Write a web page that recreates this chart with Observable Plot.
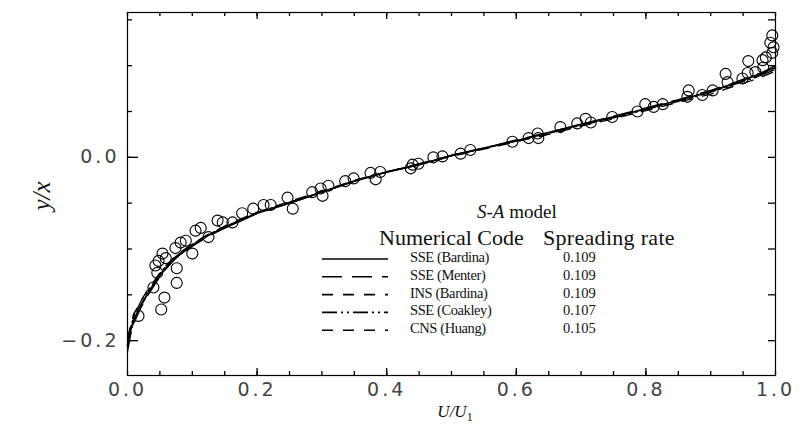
<!DOCTYPE html>
<html><head><meta charset="utf-8">
<script src="https://cdn.jsdelivr.net/npm/d3@7"></script>
<script src="https://cdn.jsdelivr.net/npm/@observablehq/plot@0.6"></script>
<style>
body{margin:0;background:#fff;}
#wrap{position:relative;width:803px;height:431px;overflow:hidden;}
.lg{position:absolute;font-family:"Liberation Serif","Times New Roman",serif;color:#111;white-space:nowrap;line-height:1;}
</style></head><body><div id="wrap"></div>
<script>
// ---- data ----
const uCurve = [0, 0.005, 0.01, 0.02, 0.03, 0.04, 0.055, 0.075, 0.1, 0.125, 0.15, 0.175, 0.2, 0.25, 0.3, 0.35, 0.4, 0.45, 0.5, 0.55, 0.6, 0.65, 0.7, 0.75, 0.8, 0.85, 0.9, 0.93, 0.96, 0.98, 1.0];
const ySSEBardina = [-0.205, -0.188, -0.177, -0.162, -0.150, -0.139, -0.124, -0.109, -0.096, -0.085, -0.077, -0.069, -0.061, -0.050, -0.038, -0.026, -0.016, -0.008, 0.002, 0.010, 0.018, 0.027, 0.036, 0.044, 0.053, 0.062, 0.072, 0.079, 0.087, 0.092, 0.098];
const ySSEMenter = [-0.212, -0.193, -0.181, -0.165, -0.152, -0.141, -0.125, -0.110, -0.097, -0.086, -0.077, -0.069, -0.061, -0.050, -0.038, -0.026, -0.016, -0.007, 0.002, 0.010, 0.019, 0.027, 0.036, 0.045, 0.054, 0.063, 0.073, 0.080, 0.088, 0.093, 0.100];
const yINSBardina = [-0.208, -0.190, -0.178, -0.163, -0.151, -0.140, -0.124, -0.109, -0.096, -0.085, -0.076, -0.068, -0.061, -0.049, -0.038, -0.026, -0.016, -0.008, 0.002, 0.010, 0.018, 0.027, 0.036, 0.044, 0.053, 0.062, 0.072, 0.079, 0.086, 0.091, 0.097];
const ySSECoakley = [-0.200, -0.184, -0.173, -0.158, -0.147, -0.137, -0.122, -0.108, -0.095, -0.084, -0.076, -0.068, -0.060, -0.049, -0.038, -0.026, -0.016, -0.008, 0.002, 0.010, 0.018, 0.026, 0.035, 0.043, 0.052, 0.061, 0.071, 0.078, 0.085, 0.090, 0.096];
const yCNSHuang = [-0.198, -0.182, -0.171, -0.157, -0.146, -0.136, -0.121, -0.107, -0.094, -0.084, -0.075, -0.067, -0.060, -0.048, -0.037, -0.025, -0.016, -0.008, 0.001, 0.009, 0.017, 0.025, 0.034, 0.042, 0.051, 0.060, 0.069, 0.076, 0.083, 0.088, 0.094];

const expU = [0.017, 0.052, 0.057, 0.040, 0.076, 0.076, 0.046, 0.043, 0.048, 0.054, 0.059, 0.074, 0.082, 0.090, 0.100, 0.105, 0.113, 0.125, 0.139, 0.147, 0.162, 0.177, 0.194,
  0.210, 0.221, 0.247, 0.255, 0.285, 0.298, 0.301, 0.310, 0.336, 0.349, 0.375, 0.390, 0.383, 0.437, 0.440, 0.449, 0.472, 0.486, 0.514, 0.529,
  0.594, 0.619, 0.633, 0.634, 0.668, 0.694, 0.707, 0.715, 0.748, 0.787, 0.799, 0.812, 0.826, 0.866, 0.864, 0.887, 0.903, 0.923, 0.926,
  0.949, 0.957, 0.969, 0.958, 0.980, 0.985, 0.992, 0.995, 0.997, 0.995, 0.981];
const expV = [-0.173, -0.166, -0.153, -0.142, -0.137, -0.121, -0.126, -0.118, -0.113, -0.105, -0.110, -0.099, -0.093, -0.091, -0.105, -0.080, -0.077, -0.087, -0.069, -0.071, -0.071, -0.061, -0.056,
  -0.052, -0.052, -0.044, -0.056, -0.038, -0.034, -0.042, -0.031, -0.026, -0.023, -0.017, -0.016, -0.024, -0.012, -0.008, -0.007, 0.000, 0.001, 0.004, 0.008,
  0.017, 0.021, 0.026, 0.021, 0.033, 0.037, 0.042, 0.038, 0.044, 0.050, 0.058, 0.055, 0.058, 0.073, 0.066, 0.068, 0.073, 0.091, 0.082,
  0.086, 0.092, 0.093, 0.105, 0.106, 0.109, 0.125, 0.133, 0.120, 0.114, 0.098];

const codes = ["SSE (Bardina)", "SSE (Menter)", "INS (Bardina)", "SSE (Coakley)", "CNS (Huang)"];
const rates = ["0.109", "0.109", "0.109", "0.107", "0.105"];
const dashes = [null, "20,10", "11,10", "15,4,2,4,2,4", "11,10"];
const seriesY = [ySSEBardina, ySSEMenter, yINSBardina, ySSECoakley, yCNSHuang];
const xLabelTicks = [0, 0.2, 0.4, 0.6, 0.8, 1.0];
const yLabelTicks = [-0.2, 0.0];

// ---- build ----
const W = 803, H = 431, mL = 127, mR = 28, mT = 12, mB = 56;
const pw = W - mL - mR, ph = H - mT - mB;
const curveData = codes.flatMap((c, i) => uCurve.map((u, j) => ({code: c, u, v: seriesY[i][j]})));
const expData = expU.map((u, i) => ({u, v: expV[i]}));
const minorX = d3.range(0, 1.0001, 0.05).map(d => +d.toFixed(2));
const majorX = [0.2, 0.4, 0.6, 0.8];
const minorY = d3.range(-0.2, 0.1501, 0.05).map(d => +d.toFixed(2));
const fmt = d3.format(".1f");

const lineMarks = codes.map((c, i) => Plot.line(curveData.filter(d => d.code === c), {
  x: "u", y: "v", stroke: "#000", strokeWidth: i === 0 ? 1.8 : 1.3, strokeDasharray: dashes[i]
}));

const tickStyle = {stroke: "#000", strokeWidth: 1.3};
const chart = Plot.plot({
  width: W, height: H,
  marginLeft: mL, marginRight: mR, marginTop: mT, marginBottom: mB,
  x: {domain: [0, 1]},
  y: {domain: [-0.238, 0.158]},
  style: {background: "#fff"},
  marks: [
    // inward tick marks
    Plot.tickX(minorX, {x: d => d, insetTop: ph - 4, ...tickStyle}),
    Plot.tickX(majorX, {x: d => d, insetTop: ph - 7, ...tickStyle}),
    Plot.tickX(minorX, {x: d => d, insetBottom: ph - 4, ...tickStyle}),
    Plot.tickX(majorX, {x: d => d, insetBottom: ph - 7, ...tickStyle}),
    Plot.tickY(minorY, {y: d => d, insetRight: pw - 5, ...tickStyle}),
    Plot.tickY(yLabelTicks, {y: d => d, insetRight: pw - 11, ...tickStyle}),
    Plot.tickY(minorY, {y: d => d, insetLeft: pw - 7, ...tickStyle}),
    Plot.frame({stroke: "#000", strokeWidth: 1.2}),
    // tick labels
    Plot.axisX({anchor: "bottom", ticks: xLabelTicks, tickSize: 0, tickPadding: 7, tickFormat: fmt, label: null,
      fontSize: 19, fill: "#444", fontFamily: "DejaVu Sans"}),
    Plot.axisY({anchor: "left", ticks: yLabelTicks, tickSize: 0, tickPadding: 8, tickFormat: fmt, label: null,
      fontSize: 19, fill: "#444", fontFamily: "DejaVu Sans"}),
    ...lineMarks,
    Plot.dot(expData, {x: "u", y: "v", r: 5.5, stroke: "#000", strokeWidth: 1.1, fill: "none"})
  ]
});
const wrap = document.getElementById("wrap");
wrap.appendChild(chart);

const svg = d3.select(chart);
svg.selectAll("[aria-label$='tick label'] text").style("letter-spacing", "3px");
// axis titles
svg.append("text").attr("transform", "translate(50,196) rotate(-90)")
  .attr("text-anchor", "middle").attr("font-family", "Liberation Serif, serif")
  .attr("font-style", "italic").attr("font-size", 25).attr("fill", "#111").text("y/x");
const xt = svg.append("text").attr("x", 455).attr("y", 417).attr("text-anchor", "middle")
  .attr("font-family", "Liberation Serif, serif").attr("font-size", 17).attr("fill", "#111");
xt.append("tspan").attr("font-style", "italic").text("U/U");
xt.append("tspan").attr("font-size", 12).attr("dy", 4).text("1");

// legend
function add(html, left, top, size, extra) {
  const d = document.createElement("div");
  d.className = "lg"; d.innerHTML = html;
  d.style.left = left + "px"; d.style.top = top + "px"; d.style.fontSize = size + "px";
  if (extra) Object.assign(d.style, extra);
  wrap.appendChild(d); return d;
}
add("<i>S-A</i> model", 477, 202, 19);
add("Numerical Code", 379, 227, 22);
add("Spreading rate", 543, 227, 22, {letterSpacing: "0.3px"});
const rowTop = 250, rowStep = 17.8;
codes.forEach((c, i) => {
  add(c, 410, rowTop + i * rowStep, 14.5, {letterSpacing: "-0.4px"});
  add(rates[i], 563, rowTop + i * rowStep, 14.5);
});
const ls = d3.select(wrap).append("svg").style("position", "absolute").style("left", "0px").style("top", "0px")
  .attr("width", W).attr("height", H).style("pointer-events", "none");
codes.forEach((c, i) => {
  ls.append("line").attr("x1", 322).attr("x2", 388)
    .attr("y1", rowTop + 9 + i * rowStep).attr("y2", rowTop + 9 + i * rowStep)
    .attr("stroke", "#000").attr("stroke-width", 1.6).attr("stroke-dasharray", dashes[i]);
});
</script></body></html>
